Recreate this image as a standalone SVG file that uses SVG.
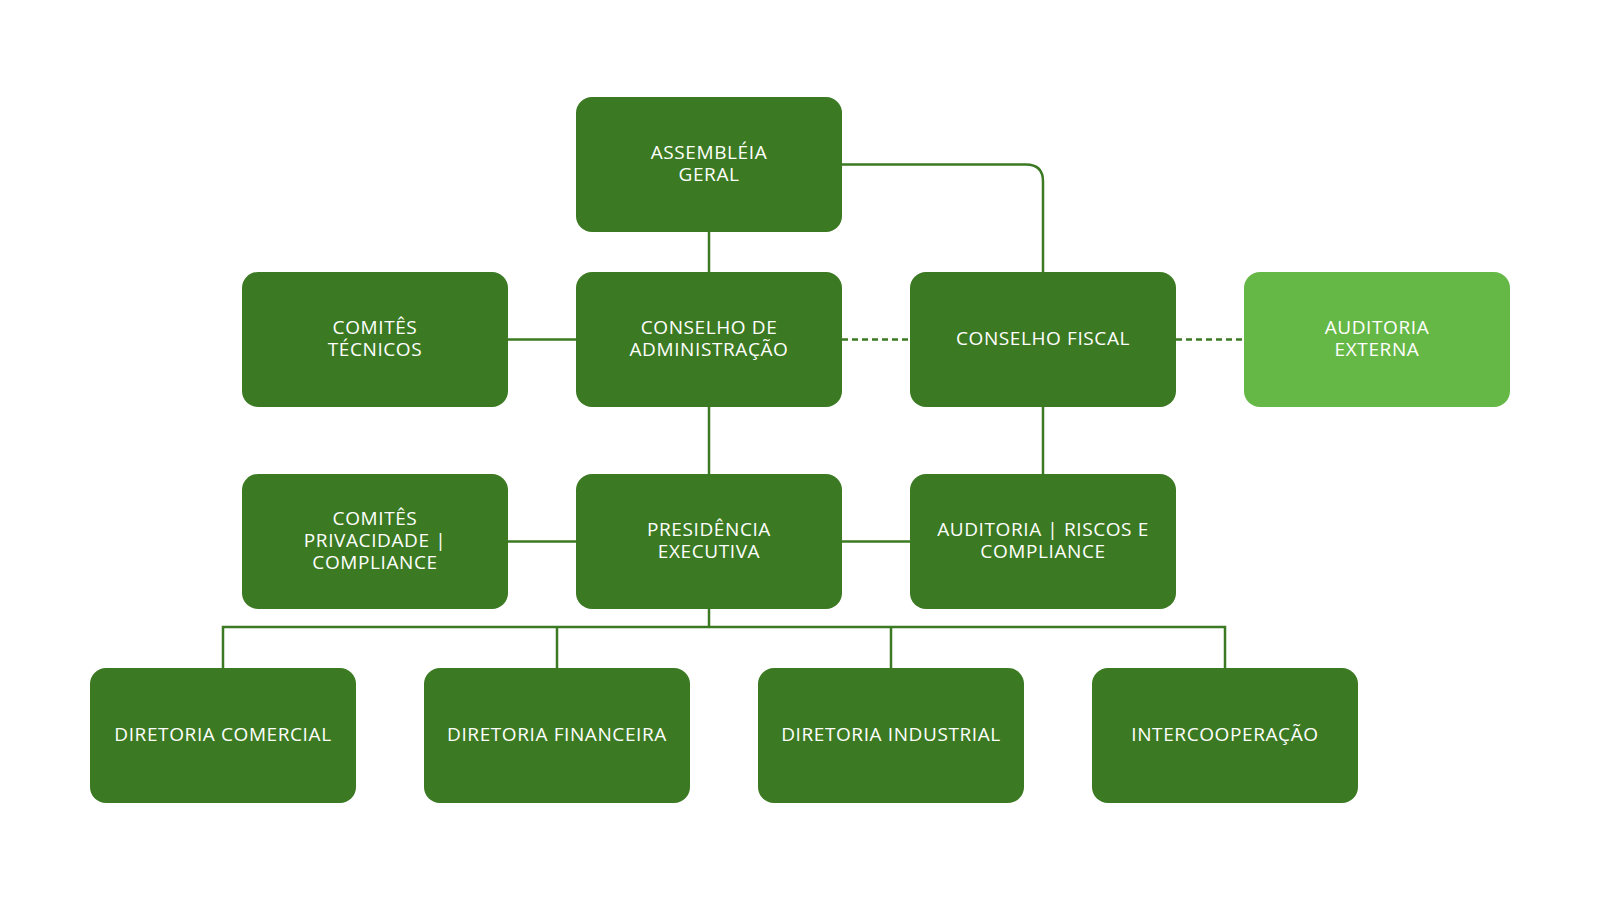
<svg xmlns="http://www.w3.org/2000/svg" width="1600" height="900" viewBox="0 0 1600 900">
<style>
.box{fill:#3B7A22}
.light{fill:#66B846}
.lbl{font-family:"Open Sans","Liberation Sans",sans-serif;font-size:19px;letter-spacing:0.6px;fill:#FFFFFF;text-anchor:middle}
.ln{fill:none;stroke:#3B7A22;stroke-width:2.5}
.dash{stroke-dasharray:6 4}
</style>
<rect width="1600" height="900" fill="#FFFFFF"/>
<g id="connectors">
<path class="ln" d="M709 232V272"/>
<path class="ln" d="M842 164.5H1026Q1043 164.5 1043 181.5V272"/>
<path class="ln" d="M508 339.5H576"/>
<path class="ln dash" d="M842 339.5H910"/>
<path class="ln dash" d="M1176 339.5H1244"/>
<path class="ln" d="M709 407V474"/>
<path class="ln" d="M1043 407V474"/>
<path class="ln" d="M508 541.5H576"/>
<path class="ln" d="M842 541.5H910"/>
<path class="ln" d="M709 609V627"/>
<path class="ln" d="M223 668V627H1225V668"/>
<path class="ln" d="M557 627V668"/>
<path class="ln" d="M891 627V668"/>
</g>
<g id="assembleia">
<rect class="box" x="576" y="97" width="266" height="135" rx="16"/>
<text class="lbl" x="709" y="159"><tspan x="709">ASSEMBLÉIA</tspan><tspan x="709" dy="22">GERAL</tspan></text>
</g>
<g id="comites_tecnicos">
<rect class="box" x="242" y="272" width="266" height="135" rx="16"/>
<text class="lbl" x="375" y="334"><tspan x="375">COMITÊS</tspan><tspan x="375" dy="22">TÉCNICOS</tspan></text>
</g>
<g id="conselho_adm">
<rect class="box" x="576" y="272" width="266" height="135" rx="16"/>
<text class="lbl" x="709" y="334"><tspan x="709">CONSELHO DE</tspan><tspan x="709" dy="22">ADMINISTRAÇÃO</tspan></text>
</g>
<g id="conselho_fiscal">
<rect class="box" x="910" y="272" width="266" height="135" rx="16"/>
<text class="lbl" x="1043" y="345">CONSELHO FISCAL</text>
</g>
<g id="auditoria_externa">
<rect class="light" x="1244" y="272" width="266" height="135" rx="16"/>
<text class="lbl" x="1377" y="334"><tspan x="1377">AUDITORIA</tspan><tspan x="1377" dy="22">EXTERNA</tspan></text>
</g>
<g id="comites_privacidade">
<rect class="box" x="242" y="474" width="266" height="135" rx="16"/>
<text class="lbl" x="375" y="525"><tspan x="375">COMITÊS</tspan><tspan x="375" dy="22">PRIVACIDADE |</tspan><tspan x="375" dy="22">COMPLIANCE</tspan></text>
</g>
<g id="presidencia">
<rect class="box" x="576" y="474" width="266" height="135" rx="16"/>
<text class="lbl" x="709" y="536"><tspan x="709">PRESIDÊNCIA</tspan><tspan x="709" dy="22">EXECUTIVA</tspan></text>
</g>
<g id="auditoria_riscos">
<rect class="box" x="910" y="474" width="266" height="135" rx="16"/>
<text class="lbl" x="1043" y="536"><tspan x="1043">AUDITORIA | RISCOS E</tspan><tspan x="1043" dy="22">COMPLIANCE</tspan></text>
</g>
<g id="diretoria_comercial">
<rect class="box" x="90" y="668" width="266" height="135" rx="16"/>
<text class="lbl" x="223" y="741">DIRETORIA COMERCIAL</text>
</g>
<g id="diretoria_financeira">
<rect class="box" x="424" y="668" width="266" height="135" rx="16"/>
<text class="lbl" x="557" y="741">DIRETORIA FINANCEIRA</text>
</g>
<g id="diretoria_industrial">
<rect class="box" x="758" y="668" width="266" height="135" rx="16"/>
<text class="lbl" x="891" y="741">DIRETORIA INDUSTRIAL</text>
</g>
<g id="intercooperacao">
<rect class="box" x="1092" y="668" width="266" height="135" rx="16"/>
<text class="lbl" x="1225" y="741">INTERCOOPERAÇÃO</text>
</g>
</svg>
